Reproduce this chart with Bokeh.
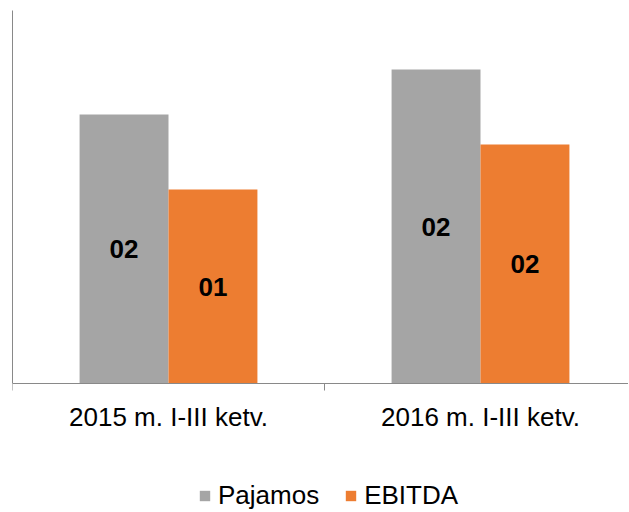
from bokeh.plotting import figure
from bokeh.models import (ColumnDataSource, Range1d, FixedTicker, Legend, LegendItem,
                          LabelSet)
from bokeh.core.properties import value
from bokeh.embed import file_html
from bokeh.resources import INLINE

# ---- data ----
categories = ["2015 m. I-III ketv.", "2016 m. I-III ketv."]
pajamos = [26.9, 31.4]
ebitda = [19.4, 23.9]
pajamos_labels = ["02", "02"]
ebitda_labels = ["01", "02"]
y_max = 37.3

GRAY = "#A5A5A5"
ORANGE = "#ED7D31"
AXIS = "#898989"
FONT = "Liberation Sans"

# layout (pixels)
TOP = 10
LEFT = 12
WIDTH = 628
PLOT_H = 373      # height of the value area
BELOW_H = 128     # room under the baseline for labels and legend
CAT_PX = 312      # width of one category
y_min = -y_max * BELOW_H / PLOT_H

idx = [i + 0.5 for i in range(len(categories))]
bar_w = 0.285
off = bar_w / 2

src_p = ColumnDataSource(dict(x=[c - off for c in idx], top=pajamos,
                              mid=[v / 2 for v in pajamos], lab=pajamos_labels))
src_e = ColumnDataSource(dict(x=[c + off for c in idx], top=ebitda,
                              mid=[v / 2 for v in ebitda], lab=ebitda_labels))

p = figure(width=WIDTH, height=TOP + PLOT_H + BELOW_H, output_backend="svg",
           toolbar_location=None,
           x_range=Range1d(0, (WIDTH - LEFT) / CAT_PX), y_range=Range1d(y_min, y_max),
           min_border_left=LEFT, min_border_right=0, min_border_top=TOP,
           min_border_bottom=0)
p.outline_line_color = None
p.xgrid.visible = False
p.ygrid.visible = False
p.background_fill_color = "white"
p.border_fill_color = "white"

r1 = p.vbar(x="x", top="top", width=bar_w, source=src_p, fill_color=GRAY, line_color=None)
r2 = p.vbar(x="x", top="top", width=bar_w, source=src_e, fill_color=ORANGE, line_color=None)

for src in (src_p, src_e):
    p.add_layout(LabelSet(x="x", y="mid", text="lab", source=src,
                          text_align="center", text_baseline="middle",
                          text_font=value(FONT), text_font_style="bold",
                          text_font_size="26px", text_color="black"))

# x axis, pinned at value 0
xa = p.xaxis[0]
xa.fixed_location = 0
xa.ticker = FixedTicker(ticks=idx, minor_ticks=[0, 1, 2])
xa.major_label_overrides = {c: lab for c, lab in zip(idx, categories)}
xa.major_tick_in = 0
xa.major_tick_out = 0
xa.minor_tick_in = 0
xa.minor_tick_out = 7
xa.minor_tick_line_color = AXIS
xa.axis_line_color = AXIS
xa.major_label_standoff = 11
xa.major_label_text_font = FONT
xa.major_label_text_font_size = "26px"
xa.major_label_text_color = "black"

# y axis (line only, from 0 to max)
ya = p.yaxis[0]
ya.bounds = (0, y_max)
ya.ticker = FixedTicker(ticks=[])
ya.major_tick_in = 0
ya.major_tick_out = 0
ya.minor_tick_in = 0
ya.minor_tick_out = 0
ya.major_label_standoff = 0
ya.axis_line_color = AXIS

legend = Legend(items=[LegendItem(label="Pajamos", renderers=[r1]),
                       LegendItem(label="EBITDA", renderers=[r2])],
                orientation="horizontal", location=(186, 0),
                padding=0, margin=0, spacing=25, label_standoff=7,
                glyph_width=13, glyph_height=13,
                label_text_font=FONT, label_text_font_size="26px",
                label_text_color="black", border_line_color=None,
                background_fill_alpha=0)
p.add_layout(legend, "center")

open("out.html", "w").write(file_html(p, INLINE))
